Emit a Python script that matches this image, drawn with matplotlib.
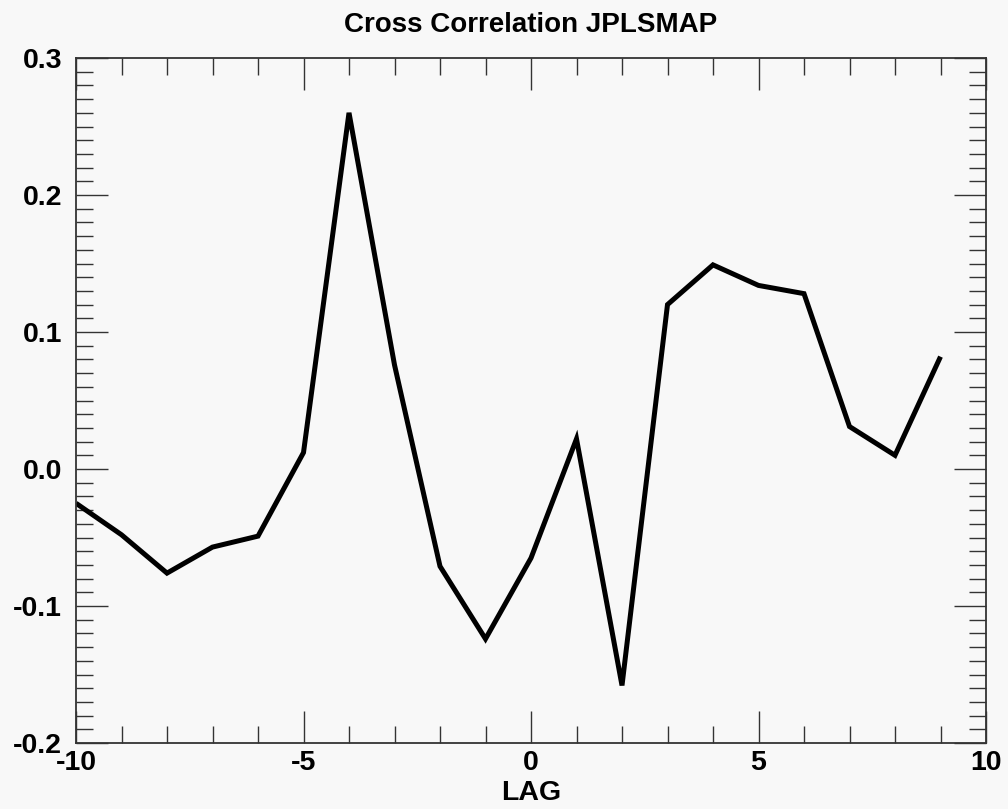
import matplotlib
matplotlib.use("Agg")
import matplotlib.pyplot as plt
from matplotlib.ticker import MultipleLocator, FormatStrFormatter

lags = [-10, -9, -8, -7, -6, -5, -4, -3, -2, -1, 0, 1, 2, 3, 4, 5, 6, 7, 8, 9]
corr = [-0.025, -0.048, -0.076, -0.057, -0.049, 0.012, 0.260, 0.076, -0.071,
        -0.124, -0.065, 0.022, -0.158, 0.120, 0.149, 0.134, 0.128, 0.031, 0.010, 0.082]
x_ticks = [-10, -5, 0, 5, 10]
y_ticks = [-0.2, -0.1, 0.0, 0.1, 0.2, 0.3]
title = "Cross Correlation JPLSMAP"
xlabel = "LAG"

plt.rcParams['font.family'] = ['Liberation Sans', 'DejaVu Sans']
plt.rcParams['font.weight'] = 'bold'

bg = '#f8f8f8'
fig = plt.figure(figsize=(10.08, 8.09), dpi=100, facecolor=bg)
ax = fig.add_axes([76/1008, 1-743/809, (986-76)/1008, (743-58)/809])
ax.set_facecolor(bg)

ax.plot(lags, corr, color='black', lw=3.6, solid_joinstyle='miter', solid_capstyle='butt')

ax.set_xlim(-10, 10)
ax.set_ylim(-0.2, 0.3)
ax.set_xticks(x_ticks)
ax.set_yticks(y_ticks)
ax.xaxis.set_minor_locator(MultipleLocator(1))
ax.yaxis.set_minor_locator(MultipleLocator(0.01))
ax.yaxis.set_major_formatter(FormatStrFormatter('%.1f'))
ax.xaxis.set_major_formatter(FormatStrFormatter('%d'))

ax.tick_params(which='both', direction='in', top=True, right=True, color='#333333', width=1.0)
ax.tick_params(which='major', length=23)
ax.tick_params(which='minor', length=12)
ax.tick_params(axis='x', which='major', pad=5, labelsize=20.5)
ax.tick_params(axis='y', which='major', pad=10, labelsize=20.5)
for lab in ax.get_xticklabels() + ax.get_yticklabels():
    lab.set_fontweight('bold')
for s in ax.spines.values():
    s.set_linewidth(1.3)
    s.set_color('#333333')

ax.set_xlabel(xlabel, fontsize=20.5, fontweight='bold', labelpad=3)
ax.set_title(title, fontsize=20, fontweight='bold', pad=19)

fig.savefig('out.png', dpi=100, facecolor=bg)
